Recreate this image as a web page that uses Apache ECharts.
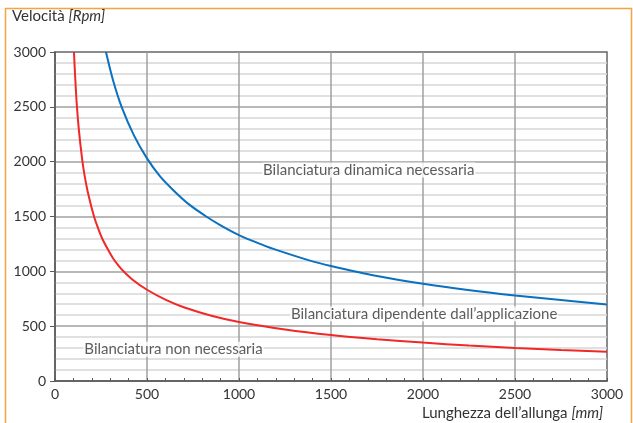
<!DOCTYPE html>
<html>
<head>
<meta charset="utf-8">
<script src="https://cdn.jsdelivr.net/npm/echarts@6/dist/echarts.min.js"></script>
<style>
html,body{margin:0;padding:0;background:#fff;}
#c{width:633px;height:423px;}
</style>
</head>
<body>
<div id="c"></div>
<script>
// Data (estimated along the drawn curves)
var redX = [103, 110, 118, 130, 147, 160, 180, 212, 235, 259, 290, 317, 345, 371, 420, 500, 600, 700, 850, 1000, 1250, 1500, 1750, 2000, 2250, 2500, 2750, 3000];
var redY = [3000, 2760, 2530, 2285, 2030, 1882, 1710, 1500, 1390, 1290, 1192, 1115, 1053, 1003, 926, 832, 742, 672, 595, 538, 470, 419, 381, 350, 323, 301, 283, 267];
var blueX = [277, 315, 362, 429, 500, 570, 643, 730, 824, 900, 1000, 1100, 1187, 1386, 1500, 1750, 2000, 2255, 2500, 2750, 3000];
var blueY = [3000, 2745, 2500, 2240, 2030, 1868, 1740, 1608, 1498, 1420, 1331, 1260, 1205, 1098, 1049, 958, 887, 828, 780, 738, 698];
var regionLabels = ['Bilanciatura dinamica necessaria', 'Bilanciatura dipendente dall\u2019applicazione', 'Bilanciatura non necessaria'];
var regionX = [1125, 1277, 154];
var regionY = [1924, 611, 289];
var xTicks = [0, 500, 1000, 1500, 2000, 2500, 3000];
var yTicks = [0, 500, 1000, 1500, 2000, 2500, 3000];

var FONT = 'Lato';
function pairs(xs, ys){ return xs.map(function(x,i){ return [x, ys[i]]; }); }
function plain(v){ return String(v); }

var chart = echarts.init(document.getElementById('c'), null, {renderer:'canvas'});
chart.setOption({
  animation: false,
  backgroundColor: '#fff',
  textStyle: {fontFamily: FONT},
  grid: {left: 55, top: 52, right: 26, bottom: 42, show: true, borderColor: '#666', borderWidth: 1.5, backgroundColor: 'transparent'},
  xAxis: {
    type: 'value', min: xTicks[0], max: xTicks[xTicks.length-1], interval: 500,
    axisLine: {show: true, lineStyle: {color: '#595959', width: 1.5}},
    axisTick: {show: true, inside: true, length: 3, lineStyle: {color: '#595959'}},
    minorTick: {show: true, splitNumber: 5, length: 3, lineStyle: {color: '#595959'}},
    axisLabel: {color: '#333', fontSize: 14, fontFamily: FONT, margin: 6, formatter: plain},
    splitLine: {show: true, showMinLine: false, showMaxLine: false, lineStyle: {color: '#a0a0a0', width: 1.5}}
  },
  yAxis: {
    type: 'value', min: yTicks[0], max: yTicks[yTicks.length-1], interval: 500,
    axisLine: {show: true, lineStyle: {color: '#595959', width: 1.5}},
    axisTick: {show: true, inside: false, length: 5, lineStyle: {color: '#595959'}},
    axisLabel: {color: '#333', fontSize: 14, fontFamily: FONT, margin: 9, formatter: plain},
    splitLine: {show: true, showMinLine: false, showMaxLine: false, lineStyle: {color: '#a0a0a0', width: 1.5}},
    minorSplitLine: {show: true, lineStyle: {color: '#d6d6d6', width: 1.5}},
    minorTick: {show: false, splitNumber: 5}
  },
  series: [
    {type: 'line', data: pairs(blueX, blueY), smooth: 0.3, showSymbol: false, symbol: 'none',
     lineStyle: {color: '#0a70c0', width: 2}, z: 5},
    {type: 'line', data: pairs(redX, redY), smooth: 0.3, showSymbol: false, symbol: 'none',
     lineStyle: {color: '#f02828', width: 2}, z: 5},
    {type: 'scatter', symbolSize: 0, z: 6,
     data: regionX.map(function(x,i){ return {value: [x, regionY[i]], name: regionLabels[i]}; }),
     label: {show: true, position: 'right', distance: 0, formatter: '{b}', color: '#333', fontSize: 15, fontFamily: FONT,
       backgroundColor: '#fff', padding: [0, 1, 0, 1]}}
  ],
  graphic: [
    {type: 'rect', shape: {x: 5.5, y: 8.5, width: 626, height: 440}, style: {fill: 'none', stroke: '#f5a442', lineWidth: 1.5}, z: 0},
    {type: 'text', left: 12, top: 9, style: {
      text: '{a|Velocità }{b|[Rpm]}',
      rich: {a: {fontSize: 15, fontFamily: FONT, fill: '#333'}, b: {fontSize: 15, fontFamily: FONT, fontStyle: 'italic', fill: '#333'}}
    }},
    {type: 'text', right: 30, top: 406, style: {
      text: '{a|Lunghezza dell\u2019allunga }{b|[mm]}',
      rich: {a: {fontSize: 15, fontFamily: FONT, fill: '#333'}, b: {fontSize: 15, fontFamily: FONT, fontStyle: 'italic', fill: '#333'}}
    }}
  ]
});
</script>
</body>
</html>
